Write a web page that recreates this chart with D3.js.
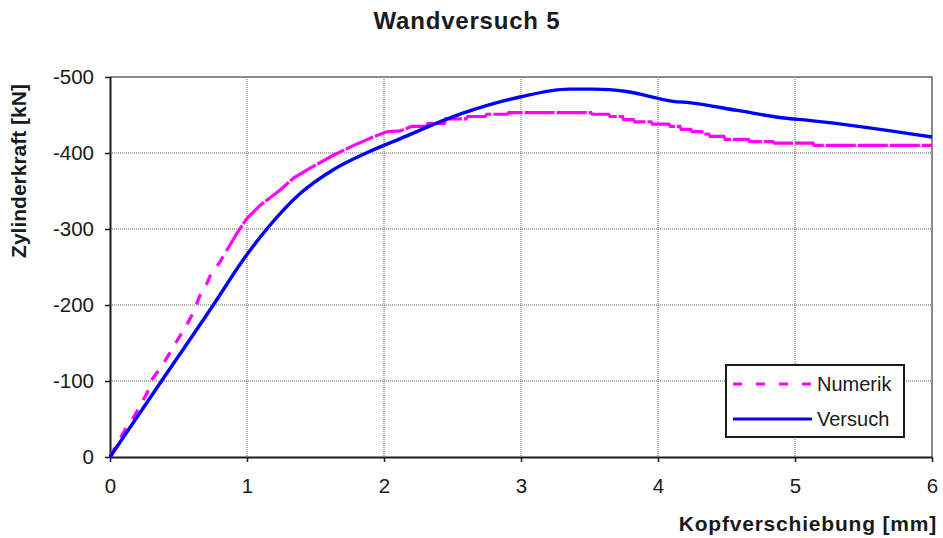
<!DOCTYPE html>
<html>
<head>
<meta charset="utf-8">
<script src="https://cdn.jsdelivr.net/npm/d3@7"></script>
<style>
  html, body { margin: 0; padding: 0; background: #fff; }
  svg { display: block; font-family: "Liberation Sans", Arial, sans-serif; }
</style>
</head>
<body>
<svg id="chart" width="943" height="538"></svg>
<script>
// Wall test 5: head displacement [mm] vs. cylinder force [kN]
const titleText = "Wandversuch 5";
const xLabel = "Kopfverschiebung [mm]";
const yLabel = "Zylinderkraft [kN]";
const xTicks = [0, 1, 2, 3, 4, 5, 6];
const yTicks = [0, -100, -200, -300, -400, -500];
const seriesNames = ["Numerik", "Versuch"];

// Numerical simulation: [displacement mm, force kN]
const numerik = [
  [0, 0], [0.12, -39], [0.16, -48], [0.22, -68], [0.27, -84], [0.31, -103],
  [0.38, -120], [0.44, -138], [0.50, -156], [0.56, -174], [0.61, -191],
  [0.66, -214], [0.70, -225], [0.73, -238], [0.76, -245], [0.80, -256],
  [0.85, -271], [0.925, -294], [1.0, -314], [1.095, -331], [1.24, -351],
  [1.34, -367], [1.46, -380], [1.63, -397], [1.78, -410], [1.92, -421],
  [2.02, -428], [2.12, -429], [2.20, -435], [2.31, -435], [2.32, -439],
  [2.44, -439], [2.45, -445], [2.60, -445], [2.61, -448], [2.74, -448],
  [2.75, -451], [2.90, -451], [2.91, -453], [3.51, -453], [3.52, -451],
  [3.64, -451], [3.65, -448], [3.74, -448], [3.75, -444], [3.82, -444],
  [3.83, -441], [3.95, -441], [3.96, -438], [4.08, -438], [4.09, -435],
  [4.16, -435], [4.17, -431], [4.24, -431], [4.25, -428], [4.32, -428],
  [4.33, -425], [4.37, -425], [4.38, -422], [4.48, -422], [4.49, -418],
  [4.66, -418], [4.67, -415], [4.84, -415], [4.85, -413], [5.13, -413],
  [5.14, -410], [6.0, -410]
];

// Measured test curve: [displacement mm, force kN]
const versuch = [
  [0, 0], [0.365, -97], [0.754, -200], [0.97, -259], [1.14, -299],
  [1.39, -347], [1.63, -378], [1.87, -400], [2.12, -419], [2.57, -452],
  [3.0, -474], [3.35, -484], [3.53, -484], [3.77, -481], [4.11, -468],
  [4.24, -466], [4.58, -456], [4.92, -446], [5.1, -443], [6.0, -421]
];

const svg = d3.select("#chart");
const plot = { left: 110, right: 932, top: 77, bottom: 457 };

const x = d3.scaleLinear().domain([0, 6]).range([plot.left, plot.right]);
const y = d3.scaleLinear().domain([0, -500]).range([plot.bottom, plot.top]);

// Grid lines (dotted)
const grid = svg.append("g");
grid.selectAll("line.gx").data(xTicks.filter(d => d > 0 && d < 6)).join("line")
  .attr("x1", d => x(d)).attr("x2", d => x(d))
  .attr("y1", plot.top).attr("y2", plot.bottom)
  .attr("stroke", "#606060").attr("stroke-width", 1).attr("stroke-dasharray", "1,1");
grid.selectAll("line.gy").data(yTicks.filter(d => d !== 0 && d !== -500)).join("line")
  .attr("x1", plot.left).attr("x2", plot.right)
  .attr("y1", d => y(d)).attr("y2", d => y(d))
  .attr("stroke", "#606060").attr("stroke-width", 1).attr("stroke-dasharray", "1,1");

// Top and right frame in grey
svg.append("path")
  .attr("d", `M${plot.left},${y(-500)}H${plot.right}V${plot.bottom}`)
  .attr("fill", "none").attr("stroke", "#8a8a8a").attr("stroke-width", 2);

// Axes (plain hyphen for negative labels)
const fmt = d => String(d);
const xAxis = svg.append("g").attr("transform", `translate(0,${plot.bottom})`)
  .call(d3.axisBottom(x).tickValues(xTicks).tickFormat(fmt).tickSize(5).tickPadding(16));
const yAxis = svg.append("g").attr("transform", `translate(${plot.left},0)`)
  .call(d3.axisLeft(y).tickValues(yTicks).tickFormat(fmt).tickSize(5).tickPadding(11));
[xAxis, yAxis].forEach(g => {
  g.select(".domain").attr("stroke", "#1a1a1a").attr("stroke-width", 2);
  g.selectAll(".tick line").attr("stroke", "#1a1a1a").attr("stroke-width", 1.5);
  g.selectAll(".tick text").attr("font-size", 20.5).attr("fill", "#1a1a1a")
    .attr("font-family", "'Liberation Sans', Arial, sans-serif");
});
xAxis.select(".domain").attr("d", `M${plot.left},0.5H${plot.right}`);
yAxis.select(".domain").attr("d", `M0.5,${plot.bottom}V${plot.top}`);

// Series lines
const line = d3.line().x(d => x(d[0])).y(d => y(d[1]));
const lines = svg.append("g");
// sparse initial portion of the simulation shows as dashes, dense part reads as solid
lines.append("path").datum(numerik.filter(d => d[0] <= 0.85))
  .attr("d", line).attr("fill", "none")
  .attr("stroke", "#ff00ff").attr("stroke-width", 3.2).attr("stroke-dasharray", "11,11");
lines.append("path").datum(numerik.filter(d => d[0] >= 0.85))
  .attr("d", line).attr("fill", "none")
  .attr("stroke", "#ff00ff").attr("stroke-width", 3.2).attr("stroke-dasharray", "30,2");
lines.append("path").datum(versuch)
  .attr("d", line.curve(d3.curveMonotoneX)).attr("fill", "none")
  .attr("stroke", "#0000ff").attr("stroke-width", 3.4).attr("stroke-linejoin", "round");

// Titles
svg.append("text").attr("x", 467).attr("y", 29).attr("text-anchor", "middle")
  .attr("font-size", 24).attr("font-weight", "bold").attr("letter-spacing", 0.8)
  .attr("fill", "#1a1a1a").text(titleText);
svg.append("text").attr("x", 937).attr("y", 531).attr("text-anchor", "end")
  .attr("font-size", 21).attr("font-weight", "bold").attr("letter-spacing", 0.8)
  .attr("fill", "#1a1a1a").text(xLabel);
svg.append("text").attr("transform", "translate(26,171) rotate(-90)").attr("text-anchor", "middle")
  .attr("font-size", 21).attr("font-weight", "bold")
  .attr("fill", "#1a1a1a").text(yLabel);

// Legend
const legend = svg.append("g");
legend.append("rect").attr("x", 726).attr("y", 365).attr("width", 178).attr("height", 72)
  .attr("fill", "#fff").attr("stroke", "#1a1a1a").attr("stroke-width", 2);
const legendRows = [
  { name: seriesNames[0], color: "#ff00ff", dash: "9,14", y: 384 },
  { name: seriesNames[1], color: "#0000ff", dash: null, y: 419 }
];
legendRows.forEach(r => {
  legend.append("line").attr("x1", 733).attr("x2", 812).attr("y1", r.y).attr("y2", r.y)
    .attr("stroke", r.color).attr("stroke-width", 3.2)
    .attr("stroke-dasharray", r.dash);
  legend.append("text").attr("x", 817).attr("y", r.y + 7).attr("font-size", 20)
    .attr("fill", "#1a1a1a").text(r.name);
});
</script>
</body>
</html>
